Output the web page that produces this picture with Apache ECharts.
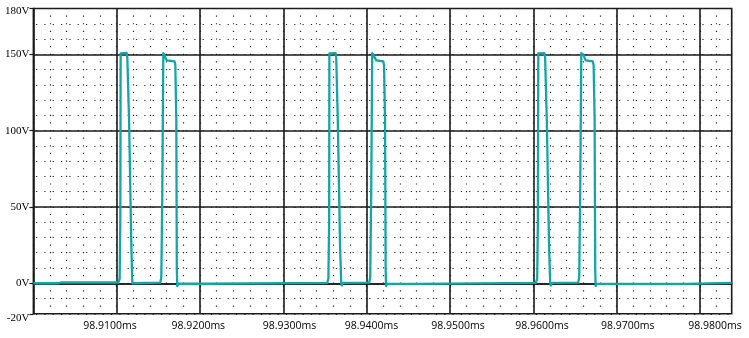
<!DOCTYPE html>
<html>
<head>
<meta charset="utf-8">
<script src="https://cdn.jsdelivr.net/npm/echarts@6/dist/echarts.min.js"></script>
<style>
  html, body { margin: 0; padding: 0; background: #fff; }
  #chart { width: 749px; height: 338px; }
</style>
</head>
<body>
<div id="chart"></div>
<script>
// Transient voltage trace: time (ms) and voltage (V)
const timeMs = [
  98.9000, 98.9030, 98.9033, 98.9102,
  98.91035, 98.91043, 98.91047, 98.91055, 98.91119, 98.91127, 98.91148, 98.91175, 98.91187, 98.91193, 98.91208,
  98.91523, 98.91535, 98.91547, 98.91559, 98.91565, 98.91582, 98.91600, 98.91616, 98.91694, 98.91703, 98.91715, 98.91721, 98.91726, 98.91742,
  98.9208, 98.9210, 98.93527,
  98.93540, 98.93549, 98.93552, 98.93561, 98.93626, 98.93634, 98.93653, 98.93680, 98.93694, 98.93701, 98.93716,
  98.94030, 98.94042, 98.94054, 98.94066, 98.94072, 98.94090, 98.94115, 98.94130, 98.94198, 98.94208, 98.94220, 98.94227, 98.94232, 98.94247,
  98.9460, 98.9462, 98.96030,
  98.96046, 98.96054, 98.96059, 98.96068, 98.96132, 98.96141, 98.96161, 98.96188, 98.96202, 98.96209, 98.96224,
  98.96538, 98.96550, 98.96562, 98.96575, 98.96582, 98.96600, 98.96628, 98.96644, 98.96713, 98.96723, 98.96735, 98.96742, 98.96747, 98.96762,
  98.9783, 98.9785, 98.9838
];
const volts = [
  0.0, 0.0, 0.5, 0.5,
  3, 40, 150.6, 151.3, 150.9, 148, 107, 25, 0, -1.2, 0.3,
  0.4, 4, 60, 150.8, 151.8, 149.5, 146, 145.5, 145.3, 143, 107, 10, -1.8, -0.3,
  -0.3, 0.2, 0.3,
  3, 40, 150.6, 151.2, 150.8, 148, 107, 25, 0, -1.4, 0.3,
  0.4, 4, 60, 150.8, 151.8, 149.5, 146, 145.5, 145.3, 143, 107, 10, -1.8, -0.4,
  -0.4, 0.2, 0.3,
  3, 40, 150.6, 151.2, 150.8, 148, 107, 25, 0, -1.4, 0.3,
  0.4, 4, 60, 150.8, 151.8, 149.5, 146, 145.5, 145.3, 143, 107, 10, -1.8, -0.4,
  -0.4, 0.2, 0.2
];

// Axis ranges, labelled ticks and major grid lines
const xMin = 98.9000, xMax = 98.9838;
const xLabelValues = [98.91, 98.92, 98.93, 98.94, 98.95, 98.96, 98.97, 98.98];
const yLabelValues = [180, 150, 100, 50, 0, -20];
const yMajorLines = [150, 100, 50, 0];

// Horizontal nudges (px) for the time labels
const xLabelNudge = [-6.7, -1.7, 6, 4.7, 8, 8.7, 11, 15];

const traceData = timeMs.map((t, i) => [t, volts[i]]);

const xRich = {};
xLabelNudge.forEach((d, k) => {
  xRich['n' + k] = {
    fontFamily: 'Open Sans', fontSize: 10.5, color: '#000',
    padding: d >= 0 ? [0, 0, 0, 2 * d] : [0, -2 * d, 0, 0]
  };
});

const dotColor = '#262626';
const chart = echarts.init(document.getElementById('chart'), null, { renderer: 'canvas' });

chart.setOption({
  animation: false,
  backgroundColor: '#ffffff',
  grid: {
    left: 33.4, right: 17.3, top: 8.5, bottom: 24.2,
    show: true, borderColor: '#1a1a1a', borderWidth: 1.6, backgroundColor: 'transparent'
  },
  xAxis: [{
    type: 'value', min: xMin, max: xMax, interval: 0.002,
    axisLine: { show: true, lineStyle: { color: '#1a1a1a', width: 1.6 } },
    axisTick: { show: false },
    axisLabel: {
      margin: 7,
      rich: xRich,
      formatter: function (v) {
        for (let k = 0; k < xLabelValues.length; k++) {
          if (Math.abs(v - xLabelValues[k]) < 1e-7) {
            return '{n' + k + '|' + xLabelValues[k].toFixed(4) + 'ms}';
          }
        }
        return '';
      }
    },
    splitLine: {
      show: true,
      lineStyle: { color: dotColor, width: 1.2, type: [1.2, 6.43], dashOffset: 0.6 }
    }
  }, {
    type: 'value', min: xMin, max: xMax, position: 'bottom',
    axisLine: { show: false },
    axisLabel: { show: false },
    splitLine: { show: false },
    axisTick: { show: true, length: 4, customValues: xLabelValues, lineStyle: { color: '#1a1a1a', width: 1.2 } }
  }],
  yAxis: [{
    type: 'value', min: -20, max: 180, interval: 10,
    axisLine: { show: true, lineStyle: { color: '#1a1a1a', width: 1.6 } },
    axisTick: { show: false },
    axisLabel: {
      margin: 4,
      fontFamily: 'Liberation Serif', fontSize: 11, color: '#000',
      rich: {
        top: { fontFamily: 'Liberation Serif', fontSize: 11, color: '#000', padding: [6, 0, 0, 0] },
        bot: { fontFamily: 'Liberation Serif', fontSize: 11, color: '#000', padding: [8, 0, 0, 0] }
      },
      formatter: function (v) {
        const r = Math.round(v);
        if (yLabelValues.indexOf(r) < 0) return '';
        if (r === 180) return '{top|180V}';
        if (r === -20) return '{bot|-20V}';
        return r + 'V';
      }
    },
    splitLine: {
      show: true,
      lineStyle: { color: dotColor, width: 1.2, type: [1.2, 7.13], dashOffset: 5.73 }
    }
  }, {
    type: 'value', min: -20, max: 180, position: 'left',
    axisLine: { show: false },
    axisLabel: { show: false },
    splitLine: { show: false },
    axisTick: { show: true, length: 4, customValues: yLabelValues, lineStyle: { color: '#1a1a1a', width: 1.2 } }
  }],
  series: [{
    type: 'line',
    xAxisIndex: 0, yAxisIndex: 0,
    data: traceData,
    showSymbol: false,
    symbol: 'none',
    z: 3,
    lineStyle: { color: '#12a6a6', width: 2.3, join: 'round' },
    markLine: {
      silent: true,
      symbol: 'none',
      z: 1,
      label: { show: false },
      lineStyle: { color: '#1a1a1a', width: 1.6, type: 'solid' },
      data: xLabelValues.map(v => ({ xAxis: v })).concat(yMajorLines.map(v => ({ yAxis: v })))
    }
  }]
});
</script>
</body>
</html>
